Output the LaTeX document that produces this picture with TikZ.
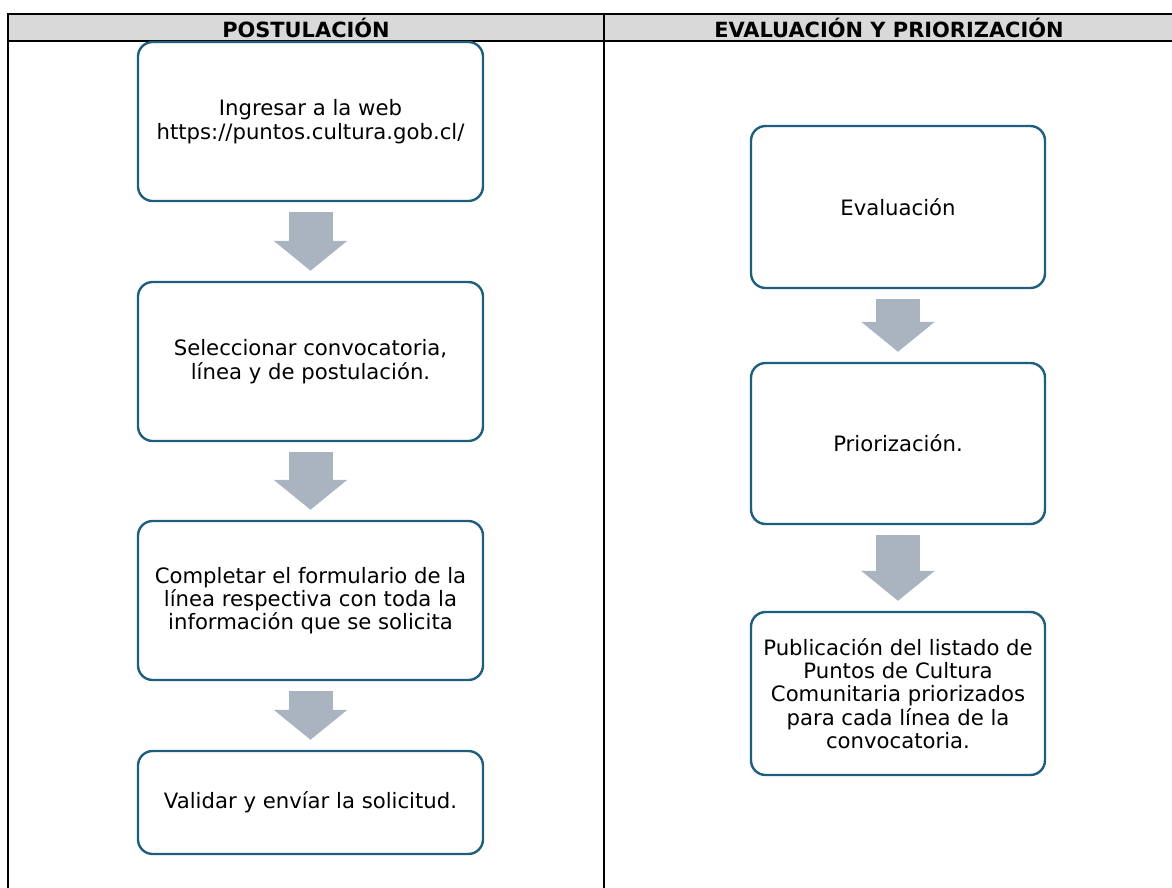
\documentclass[tikz,border=0pt]{standalone}
\usepackage{fontspec}
\setmainfont{DejaVu Sans}
\usetikzlibrary{arrows.meta,positioning,calc}
\definecolor{boxline}{HTML}{1F5E7C}
\definecolor{arrowfill}{HTML}{AAB4C1}
\definecolor{headfill}{HTML}{D9D9D9}
\tikzset{
  stepbox/.style={draw=boxline, line width=1.8pt, rounded corners=11pt, fill=white,
    align=center, inner sep=0pt, font=\fontsize{15.9}{17.5}\selectfont},
  leftbox/.style={stepbox, minimum width=258.75pt},
  rightbox/.style={stepbox, minimum width=220.5pt},
  blockarrow/.style={draw=arrowfill, line width=33pt,
    -{Triangle[length=22.5pt, width=54pt]}, shorten <=0pt},
  headtext/.style={font=\fontsize{15.7}{15}\selectfont\bfseries, inner sep=0pt},
  tableline/.style={line width=2pt, black}
}
\begin{document}
\begin{tikzpicture}[x=0.75pt,y=-0.75pt]
\useasboundingbox (0,0) rectangle (1172,888);
% table
\fill[headfill] (8,14) rectangle (1175,41);
\draw[tableline] (8,900) -- (8,14) -- (1175,14);
\draw[tableline] (8,41) -- (1175,41);
\draw[tableline] (604,14) -- (604,900);
\node[headtext] (h1) at (306,28) {POSTULACIÓN};
\node[headtext] (h2) at (889,28) {EVALUACIÓN Y PRIORIZACIÓN};
% left column
\node[leftbox, minimum height=119.25pt] (a) at (310.5,121.5) {Ingresar a la web\\https://puntos.cultura.gob.cl/};
\node[leftbox, minimum height=119.25pt] (b) at (310.5,361.5) {Seleccionar convocatoria,\\línea y de postulación.};
\node[leftbox, minimum height=119.25pt] (c) at (310.5,600.5) {Completar el formulario de la\\línea respectiva con toda la\\información que se solicita};
\node[leftbox, minimum height=77.25pt] (d) at (310.5,802.5) {Validar y envíar la solicitud.};
% right column
\node[rightbox, minimum height=121.5pt] (e) at (898,207) {Evaluación};
\node[rightbox, minimum height=120.75pt] (f) at (898,443.5) {Priorización.};
\node[rightbox, minimum height=122.25pt] (g) at (898,693.5) {Publicación del listado de\\Puntos de Cultura\\Comunitaria priorizados\\para cada línea de la\\convocatoria.};
% arrows
\foreach \p/\q in {a/b,b/c,c/d,e/f,f/g}{
  \draw[blockarrow] ([yshift=-7.5pt]\p.south) -- ([yshift=7.5pt]\q.north);
}
\end{tikzpicture}
\end{document}
